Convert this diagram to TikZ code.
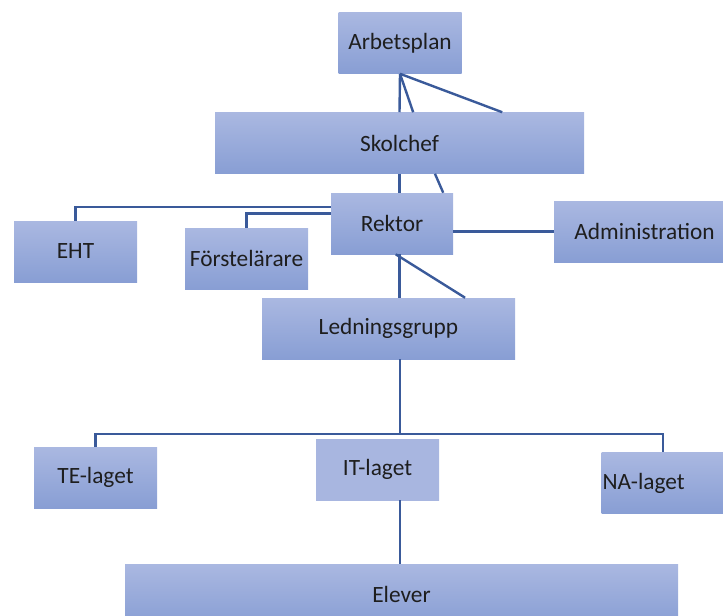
\documentclass[tikz,border=0pt]{standalone}
\usepackage{fontspec}
\setmainfont{Carlito}
\usetikzlibrary{calc}
\definecolor{boxtop}{RGB}{170,184,225}
\definecolor{boxbot}{RGB}{136,158,212}
\definecolor{boxflat}{RGB}{168,182,224}
\definecolor{linkblue}{RGB}{58,90,154}
\definecolor{txtgray}{RGB}{30,30,30}
\tikzset{
  orgbox/.style={draw=none, top color=boxtop, bottom color=boxbot, text=txtgray,
    minimum width=92.25pt, minimum height=45.75pt, inner sep=0.75pt,
    font=\fontsize{17.5}{20}\selectfont},
  link/.style={draw=linkblue, line width=1.8pt}
}
\begin{document}
\begin{tikzpicture}[x=0.75pt,y=0.75pt,yscale=-1,xscale=1]
        \useasboundingbox (0,0) rectangle (723,615);

        %Shape: Rectangle [id:arbetsplan]
        \node [orgbox] (arbetsplan) at (400,43) {Arbetsplan};
        %Shape: Rectangle [id:skolchef]
        \node [orgbox, minimum width=276.75pt] (skolchef) at (399.5,143) {Skolchef};
        %Shape: Rectangle [id:rektor]
        \node [orgbox, minimum width=91.5pt] (rektor) at (392,223.5) {Rektor};
        %Shape: Rectangle [id:eht]
        \node [orgbox] (eht) at (75.5,251.5) {EHT};
        %Shape: Rectangle [id:forst]
        \node [orgbox] (forst) at (246.5,258.5) {Förstelärare};
        %Shape: Rectangle [id:admin]
        \node [orgbox, minimum width=135.75pt] (admin) at (644.5,231.5) {Administration};
        %Shape: Rectangle [id:ledn]
        \node [orgbox, minimum width=189.75pt] (ledn) at (388.5,328.5) {Ledningsgrupp};
        %Shape: Rectangle [id:te]
        \node [orgbox] (te) at (95.5,477.5) {TE-laget};
        %Shape: Rectangle [id:it]
        \node [orgbox, top color=boxflat, bottom color=boxflat] (it) at (377.5,469.5) {IT-laget};
        %Shape: Rectangle [id:na]
        \node [orgbox, text width=90.75pt, align=left] (na) at (663,483) {NA-laget};
        %Shape: Rectangle [id:elever]
        \node [orgbox, minimum width=414.75pt] (elever) at (401.5,594.5) {Elever};

        %Straight Lines
        \draw [link] (arbetsplan.south) -- (skolchef.north);
        \draw [link] (arbetsplan.south) -- ($(skolchef.north west)!0.537!(skolchef.north east)$);
        \draw [link] (arbetsplan.south) -- ($(skolchef.north west)!0.778!(skolchef.north east)$);
        \draw [link] (skolchef.south) -- (skolchef.south |- rektor.north);
        \draw [link] ($(skolchef.south west)!0.596!(skolchef.south east)$) -- ($(rektor.north west)!0.918!(rektor.north east)$);
        %Straight Lines
        \draw [link] ($(rektor.north west)!0.23!(rektor.south west)$) -| (eht.north);
        \draw [link] ($(rektor.north west)!0.34!(rektor.south west)$) -| (forst.north);
        \draw [link] (admin.west) -- (admin.west -| rektor.east);
        \draw [link] (rektor.south -| skolchef.south) -- (ledn.north -| skolchef.south);
        \draw [link] ($(rektor.south west)!0.53!(rektor.south east)$) -- ($(ledn.north west)!0.802!(ledn.north east)$);
        %Straight Lines
        \coordinate (split) at (400,434);
        \draw [link] (ledn.south -| split) -- (split);
        \draw [link] (te.north) |- (split) -| (na.north);
        \draw [link] (it.south -| split) -- (elever.north -| split);

\end{tikzpicture}
\end{document}
